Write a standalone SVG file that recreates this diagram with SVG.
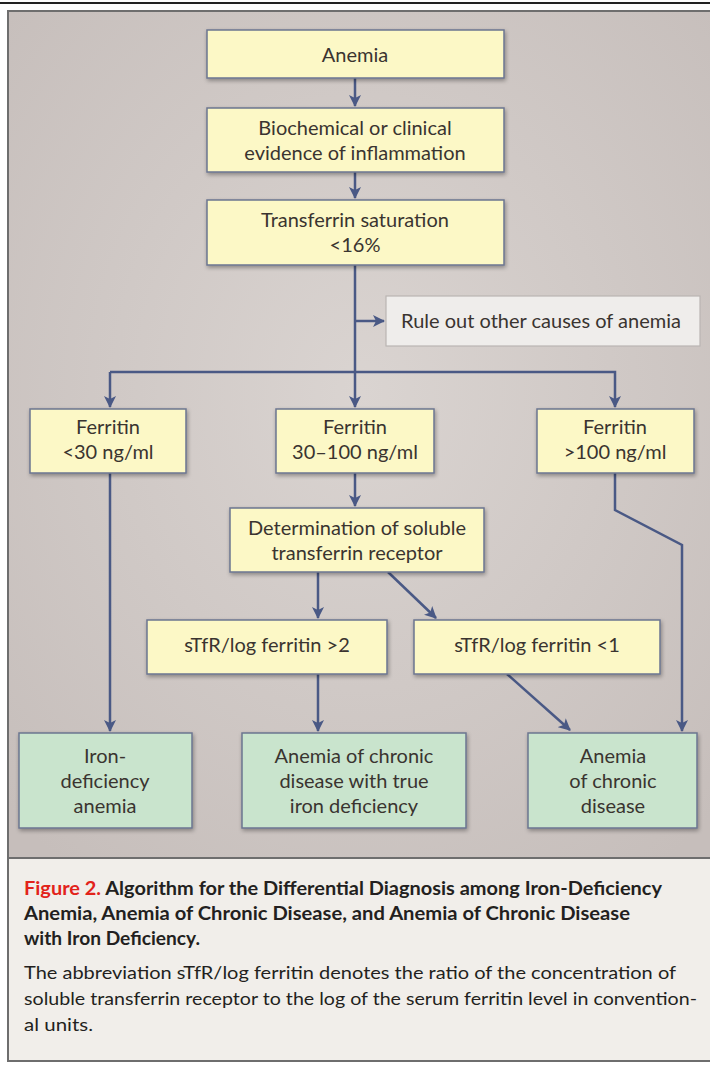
<svg xmlns="http://www.w3.org/2000/svg" width="710" height="1065" viewBox="0 0 710 1065">
<defs>
<radialGradient id="bg" cx="0.5" cy="0.45" r="0.7">
<stop offset="0" stop-color="#dad4d1"/>
<stop offset="1" stop-color="#c6bebb"/>
</radialGradient>
<filter id="sh" x="-10%" y="-10%" width="125%" height="130%">
<feGaussianBlur in="SourceAlpha" stdDeviation="2"/>
<feOffset dx="1" dy="2"/>
<feComponentTransfer><feFuncA type="linear" slope="0.35"/></feComponentTransfer>
<feMerge><feMergeNode/><feMergeNode in="SourceGraphic"/></feMerge>
</filter>
<marker id="ah" viewBox="0 0 12 12" refX="11" refY="6" markerWidth="12" markerHeight="12" markerUnits="userSpaceOnUse" orient="auto">
<path d="M0,0 L12,6 L0,12 L3,6 Z" fill="#4a5985"/>
</marker>
</defs>
<style>
.y{fill:#fcf8c6;stroke:#6b7590;stroke-width:1.5;filter:url(#sh)}
.g{fill:#c9e4cd;stroke:#6b7590;stroke-width:1.5;filter:url(#sh)}
.w{fill:#efedeb;stroke:#b9b5b2;stroke-width:1.2}
.t{font-family:Lato,"Open Sans","Liberation Sans",sans-serif;font-size:20px;fill:#3a3430;text-anchor:middle}
.c{fill:none;stroke:#4a5985;stroke-width:2.5}
.cap{font-family:Lato,"Open Sans","Liberation Sans",sans-serif;font-size:18px;fill:#231f20}
</style>
<rect width="710" height="1065" fill="#ffffff"/>
<line x1="0" y1="3" x2="710" y2="3" stroke="#222" stroke-width="2"/>
<rect x="8" y="11" width="710" height="847" fill="url(#bg)" stroke="#6e6e6e" stroke-width="2"/>
<rect x="8" y="858" width="710" height="203" fill="#f1eeea" stroke="#6e6e6e" stroke-width="2"/>

<g id="connectors">
<line class="c" x1="355" y1="78" x2="355" y2="106" marker-end="url(#ah)"/>
<line class="c" x1="355" y1="172" x2="355" y2="198" marker-end="url(#ah)"/>
<line class="c" x1="355" y1="265" x2="355" y2="372"/>
<line class="c" x1="355" y1="321" x2="384" y2="321" marker-end="url(#ah)"/>
<polyline class="c" points="110,372 615,372 615,407" marker-end="url(#ah)"/>
<line class="c" x1="110" y1="372" x2="110" y2="407" marker-end="url(#ah)"/>
<line class="c" x1="355" y1="372" x2="355" y2="407" marker-end="url(#ah)"/>
<line class="c" x1="355" y1="473" x2="355" y2="506" marker-end="url(#ah)"/>
<line class="c" x1="318" y1="572" x2="318" y2="618" marker-end="url(#ah)"/>
<line class="c" x1="388" y1="572" x2="436" y2="618" marker-end="url(#ah)"/>
<line class="c" x1="110" y1="473" x2="110" y2="731" marker-end="url(#ah)"/>
<line class="c" x1="318" y1="674" x2="318" y2="731" marker-end="url(#ah)"/>
<line class="c" x1="507" y1="674" x2="570" y2="730" marker-end="url(#ah)"/>
<polyline class="c" points="615,473 615,510 682,545 682,731" marker-end="url(#ah)"/>
</g>

<g id="anemia"><rect class="y" x="207" y="30" width="297" height="48"/><text class="t" x="355" y="62">Anemia</text></g>
<g id="inflammation"><rect class="y" x="207" y="108" width="297" height="64"/><text class="t" x="355" y="135">Biochemical or clinical</text><text class="t" x="355" y="160">evidence of inflammation</text></g>
<g id="transferrin"><rect class="y" x="207" y="200" width="297" height="65"/><text class="t" x="355" y="227">Transferrin saturation</text><text class="t" x="355" y="252">&lt;16%</text></g>
<g id="ruleout"><rect class="w" x="386" y="296" width="314" height="50"/><text class="t" x="541" y="328">Rule out other causes of anemia</text></g>
<g id="ferritin-low"><rect class="y" x="30" y="409" width="156" height="64"/><text class="t" x="108" y="434">Ferritin</text><text class="t" x="108" y="459">&lt;30 ng/ml</text></g>
<g id="ferritin-mid"><rect class="y" x="276" y="409" width="158" height="64"/><text class="t" x="355" y="434">Ferritin</text><text class="t" x="355" y="459">30–100 ng/ml</text></g>
<g id="ferritin-high"><rect class="y" x="537" y="409" width="157" height="64"/><text class="t" x="615" y="434">Ferritin</text><text class="t" x="615" y="459">&gt;100 ng/ml</text></g>
<g id="stfr"><rect class="y" x="230" y="508" width="254" height="64"/><text class="t" x="357" y="535">Determination of soluble</text><text class="t" x="357" y="560">transferrin receptor</text></g>
<g id="ratio-high"><rect class="y" x="147" y="620" width="240" height="54"/><text class="t" x="267" y="652">sTfR/log ferritin &gt;2</text></g>
<g id="ratio-low"><rect class="y" x="414" y="620" width="246" height="54"/><text class="t" x="537" y="652">sTfR/log ferritin &lt;1</text></g>
<g id="ida"><rect class="g" x="19" y="733" width="173" height="95"/><text class="t" x="105" y="763">Iron-</text><text class="t" x="105" y="788">deficiency</text><text class="t" x="105" y="813">anemia</text></g>
<g id="acd-iron"><rect class="g" x="242" y="733" width="224" height="95"/><text class="t" x="354" y="763">Anemia of chronic</text><text class="t" x="354" y="788">disease with true</text><text class="t" x="354" y="813">iron deficiency</text></g>
<g id="acd"><rect class="g" x="528" y="733" width="169" height="95"/><text class="t" x="613" y="763">Anemia</text><text class="t" x="613" y="788">of chronic</text><text class="t" x="613" y="813">disease</text></g>

<g id="caption">
<text class="cap" x="24" y="895" font-weight="bold" textLength="638" lengthAdjust="spacingAndGlyphs"><tspan fill="#e2231a">Figure 2.</tspan> Algorithm for the Differential Diagnosis among Iron-Deficiency</text>
<text class="cap" x="24" y="920" font-weight="bold" textLength="606" lengthAdjust="spacingAndGlyphs">Anemia, Anemia of Chronic Disease, and Anemia of Chronic Disease</text>
<text class="cap" x="24" y="945" font-weight="bold" textLength="176" lengthAdjust="spacingAndGlyphs">with Iron Deficiency.</text>
<text class="cap" x="24" y="979" textLength="652" lengthAdjust="spacingAndGlyphs">The abbreviation sTfR/log ferritin denotes the ratio of the concentration of</text>
<text class="cap" x="24" y="1005" textLength="673" lengthAdjust="spacingAndGlyphs">soluble transferrin receptor to the log of the serum ferritin level in convention-</text>
<text class="cap" x="24" y="1031" textLength="69" lengthAdjust="spacingAndGlyphs">al units.</text>
</g>
</svg>
